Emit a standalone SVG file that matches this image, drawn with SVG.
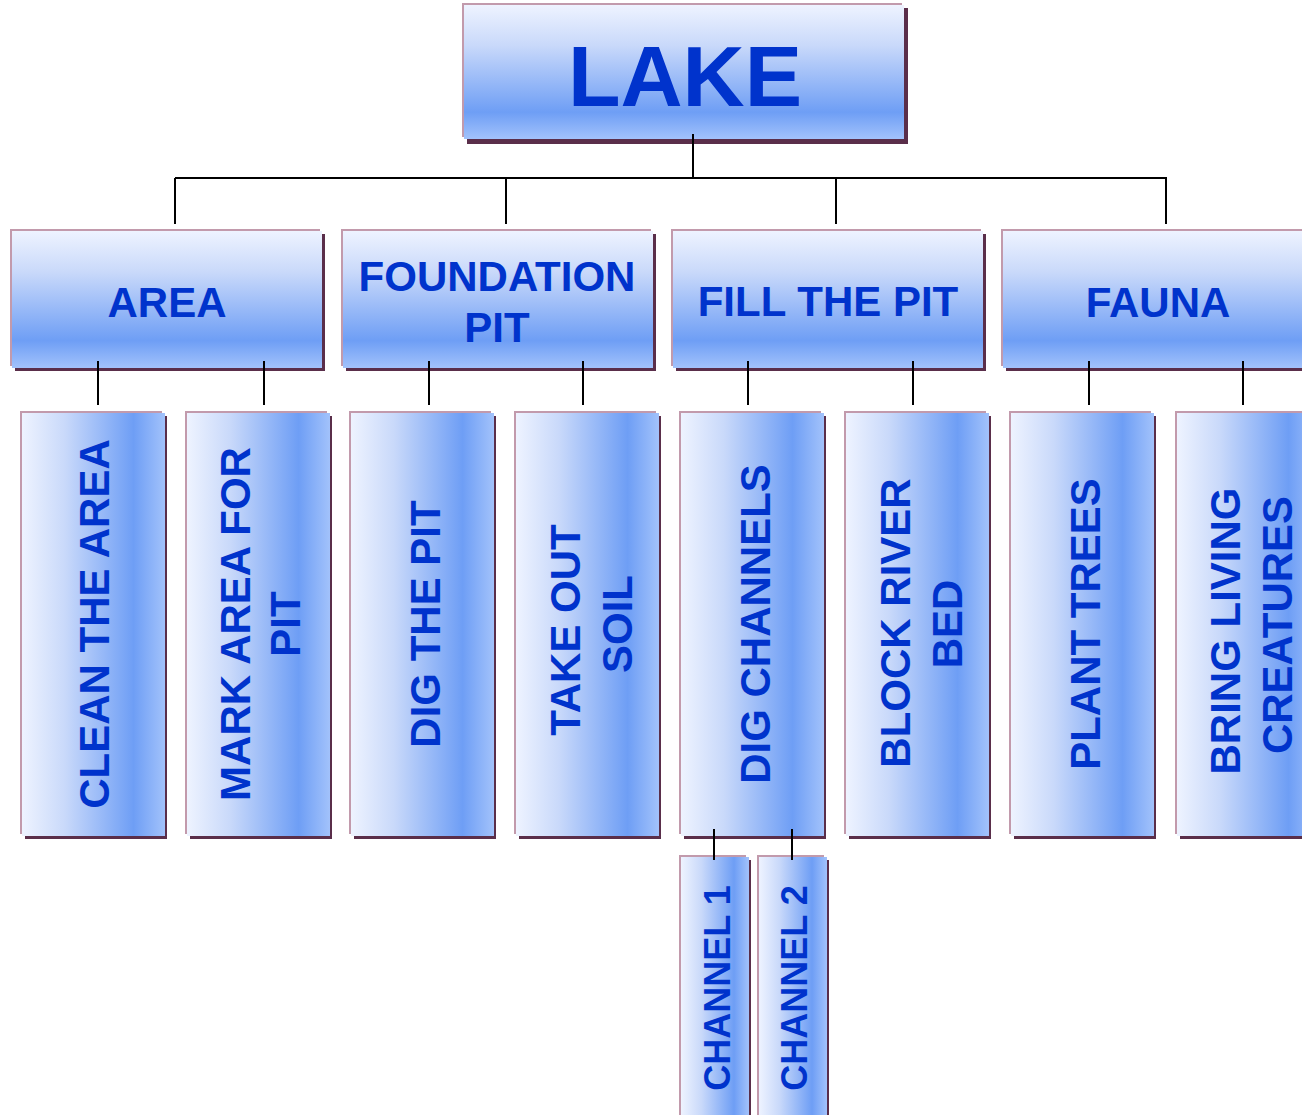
<svg xmlns="http://www.w3.org/2000/svg" width="1302" height="1115" viewBox="0 0 1302 1115">
<defs>
<linearGradient id="gv" x1="0" y1="0" x2="0" y2="1">
<stop offset="0" stop-color="#eef3ff"/>
<stop offset="0.3" stop-color="#c9d9fa"/>
<stop offset="0.8" stop-color="#6e9ef5"/>
<stop offset="1" stop-color="#a2c2fb"/>
</linearGradient>
<linearGradient id="gh" x1="0" y1="0" x2="1" y2="0">
<stop offset="0" stop-color="#eef3ff"/>
<stop offset="0.3" stop-color="#c9d9fa"/>
<stop offset="0.78" stop-color="#6e9ef5"/>
<stop offset="1" stop-color="#a2c2fb"/>
</linearGradient>
</defs>
<style>
.sh{fill:#5a2e4a}
.bd{fill:#c29aac}
.fv{fill:url(#gv)}
.fh{fill:url(#gh)}
text{font-family:"Liberation Sans",Arial,sans-serif;font-weight:bold;fill:#0033cc;text-anchor:middle}
.t1{font-size:86px}
.t2{font-size:42px}
.t3{font-size:42px}
.t4{font-size:36px}
.c{stroke:#000;stroke-width:2;fill:none}
</style>

<g id="lake">
<rect class="sh" x="467" y="8" width="441" height="136"/>
<rect class="bd" x="462" y="3" width="440" height="134"/>
<rect class="fv" x="464" y="5" width="440" height="134"/>
<text class="t1" x="685" y="106">LAKE</text>
</g>

<g id="area">
<rect class="sh" x="15" y="234" width="310" height="137"/>
<rect class="bd" x="10" y="229" width="310" height="137"/>
<rect class="fv" x="12" y="231" width="310" height="137"/>
<text class="t2" x="167" y="317">AREA</text>
</g>
<g id="foundation">
<rect class="sh" x="346" y="234" width="310" height="137"/>
<rect class="bd" x="341" y="229" width="310" height="137"/>
<rect class="fv" x="343" y="231" width="310" height="137"/>
<text class="t2" x="497" y="291">FOUNDATION</text>
<text class="t2" x="497" y="342">PIT</text>
</g>
<g id="fill">
<rect class="sh" x="676" y="234" width="310" height="137"/>
<rect class="bd" x="671" y="229" width="310" height="137"/>
<rect class="fv" x="673" y="231" width="310" height="137"/>
<text class="t2" x="828" y="316">FILL THE PIT</text>
</g>
<g id="fauna">
<rect class="sh" x="1006" y="234" width="310" height="137"/>
<rect class="bd" x="1001" y="229" width="310" height="137"/>
<rect class="fv" x="1003" y="231" width="310" height="137"/>
<text class="t2" x="1158" y="317">FAUNA</text>
</g>

<g id="clean">
<rect class="sh" x="25" y="416" width="142" height="423"/>
<rect class="bd" x="20" y="411" width="142" height="423"/>
<rect class="fh" x="22" y="413" width="143" height="423"/>
<text class="t3" transform="translate(109,624) rotate(-90)">CLEAN THE AREA</text>
</g>
<g id="mark">
<rect class="sh" x="190" y="416" width="142" height="423"/>
<rect class="bd" x="185" y="411" width="142" height="423"/>
<rect class="fh" x="187" y="413" width="143" height="423"/>
<text class="t3" transform="translate(250,624) rotate(-90)">MARK AREA FOR</text>
<text class="t3" transform="translate(300,624) rotate(-90)">PIT</text>
</g>
<g id="digpit">
<rect class="sh" x="354" y="416" width="142" height="423"/>
<rect class="bd" x="349" y="411" width="142" height="423"/>
<rect class="fh" x="351" y="413" width="143" height="423"/>
<text class="t3" transform="translate(440,624) rotate(-90)">DIG THE PIT</text>
</g>
<g id="takeout">
<rect class="sh" x="519" y="416" width="142" height="423"/>
<rect class="bd" x="514" y="411" width="142" height="423"/>
<rect class="fh" x="516" y="413" width="143" height="423"/>
<text class="t3" transform="translate(580,630) rotate(-90)">TAKE OUT</text>
<text class="t3" transform="translate(632,624) rotate(-90)">SOIL</text>
</g>
<g id="digchannels">
<rect class="sh" x="684" y="416" width="142" height="423"/>
<rect class="bd" x="679" y="411" width="142" height="423"/>
<rect class="fh" x="681" y="413" width="143" height="423"/>
<text class="t3" transform="translate(770,624) rotate(-90)">DIG CHANNELS</text>
</g>
<g id="block">
<rect class="sh" x="849" y="416" width="142" height="423"/>
<rect class="bd" x="844" y="411" width="142" height="423"/>
<rect class="fh" x="846" y="413" width="143" height="423"/>
<text class="t3" transform="translate(910,623) rotate(-90)">BLOCK RIVER</text>
<text class="t3" transform="translate(962,624) rotate(-90)">BED</text>
</g>
<g id="plant">
<rect class="sh" x="1014" y="416" width="142" height="423"/>
<rect class="bd" x="1009" y="411" width="142" height="423"/>
<rect class="fh" x="1011" y="413" width="143" height="423"/>
<text class="t3" transform="translate(1100,624) rotate(-90)">PLANT TREES</text>
</g>
<g id="bring">
<rect class="sh" x="1180" y="416" width="142" height="423"/>
<rect class="bd" x="1175" y="411" width="142" height="423"/>
<rect class="fh" x="1177" y="413" width="143" height="423"/>
<text class="t3" transform="translate(1240,631) rotate(-90)">BRING LIVING</text>
<text class="t3" transform="translate(1292,625) rotate(-90)">CREATURES</text>
</g>

<g id="channel1">
<rect class="sh" x="684" y="860" width="67" height="270"/>
<rect class="bd" x="679" y="855" width="67" height="270"/>
<rect class="fh" x="681" y="857" width="68" height="270"/>
<text class="t4" transform="translate(730,988) rotate(-90)">CHANNEL 1</text>
</g>
<g id="channel2">
<rect class="sh" x="762" y="860" width="67" height="270"/>
<rect class="bd" x="757" y="855" width="67" height="270"/>
<rect class="fh" x="759" y="857" width="68" height="270"/>
<text class="t4" transform="translate(807,988) rotate(-90)">CHANNEL 2</text>
</g>

<g id="connectors" class="c">
<path class="c" d="M693 134V178M175 178H1167M175 178V224M506 179V224M836 179V224M1166 178V224"/>
<path class="c" d="M98 361V405M264 361V405M429 361V405M583 361V405M748 361V405M913 361V405M1089 361V405M1243 361V405"/>
<path class="c" d="M714 829V860M792 829V860"/>
</g>
</svg>
